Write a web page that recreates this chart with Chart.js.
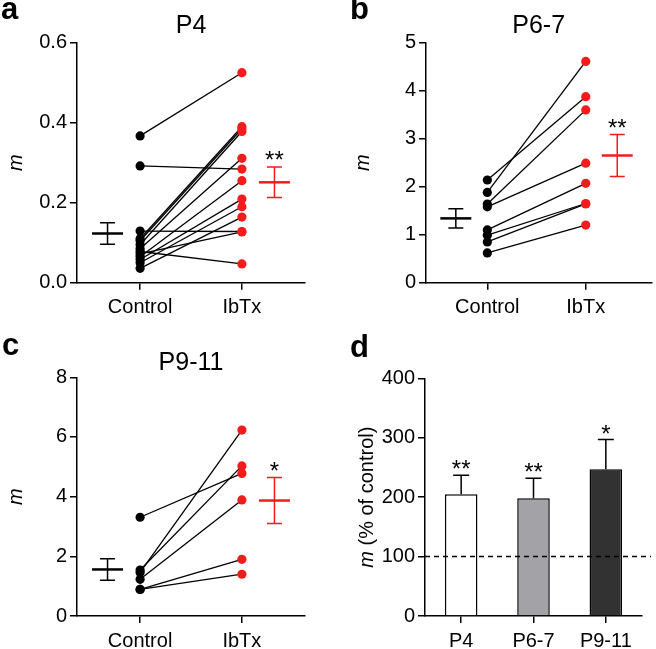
<!DOCTYPE html>
<html>
<head>
<meta charset="utf-8">
<script src="https://cdn.jsdelivr.net/npm/chart.js@4.4.1/dist/chart.umd.min.js"></script>
<style>
    html, body { margin: 0; padding: 0; background: #fff; }
    #fig { position: relative; width: 656px; height: 649px; overflow: hidden; }
    #fig canvas { position: absolute; }
</style>
</head>
<body>
<div id="fig">
    <canvas id="chartA" width="328" height="318" style="left:0;top:0"></canvas>
    <canvas id="chartB" width="328" height="318" style="left:328px;top:0"></canvas>
    <canvas id="chartC" width="328" height="331" style="left:0;top:318px"></canvas>
    <canvas id="chartD" width="328" height="331" style="left:328px;top:318px"></canvas>
</div>
<script>
    // data
    const groups = ['Control', 'IbTx'];

    // P4 (paired, same index = same cell)
    const p4Control = [0.367, 0.292, 0.129, 0.110, 0.105, 0.095, 0.085, 0.065, 0.058, 0.050, 0.036, 0.072, 0.078];
    const p4IbTx    = [0.525, 0.284, 0.128, 0.390, 0.385, 0.378, 0.311, 0.255, 0.209, 0.190, 0.164, 0.127, 0.047];
    const p4Mean = [0.123, 0.251];
    const p4Sem  = [0.027, 0.038];
    const p4Sig  = ['', '**'];

    // P6-7
    const p67Control = [2.14, 1.88, 1.64, 1.58, 1.10, 0.99, 0.85, 0.62];
    const p67IbTx    = [3.875, 4.61, 3.60, 2.49, 2.07, 1.65, 1.64, 1.20];
    const p67Mean = [1.34, 2.65];
    const p67Sem  = [0.20, 0.435];
    const p67Sig  = ['', '**'];

    // P9-11
    const p911Control = [3.31, 1.54, 1.46, 1.23, 0.89, 0.89];
    const p911IbTx    = [4.78, 5.03, 6.23, 3.89, 1.90, 1.40];
    const p911Mean = [1.56, 3.87];
    const p911Sem  = [0.36, 0.77];
    const p911Sig  = ['', '*'];

    // summary (% of control)
    const ages = ['P4', 'P6-7', 'P9-11'];
    const ratioMean = [205, 198, 247];
    const ratioSem  = [32, 34, 50];
    const ratioSig  = ['**', '**', '*'];
    const controlLevel = 100;

    const FONT = '"Liberation Sans", Arial, Helvetica, sans-serif';
    const RED = '#f21c1c';
    Chart.defaults.font.family = FONT;
    Chart.defaults.color = '#000';

    // panel letter, title and y axis title (italic m)
    const decoPlugin = {
        id: 'deco',
        afterDraw(chart, args, o) {
            const ctx = chart.ctx, a = chart.chartArea;
            ctx.save();
            ctx.fillStyle = '#000';
            ctx.textBaseline = 'alphabetic';
            ctx.font = 'bold 31px ' + FONT;
            ctx.textAlign = 'left';
            ctx.fillText(o.letter, o.letterX, o.letterY);
            if (o.title) {
                ctx.font = '25px ' + FONT;
                ctx.textAlign = 'center';
                ctx.fillText(o.title, (a.left + a.right) / 2, o.titleY);
            }
            // rotated y title
            ctx.translate(o.yTitleX, (a.top + a.bottom) / 2);
            ctx.rotate(-Math.PI / 2);
            const parts = o.yTitle;
            let total = 0;
            parts.forEach(p => {
                ctx.font = (p.italic ? 'italic ' : '') + '20px ' + FONT;
                p.w = ctx.measureText(p.text).width;
                total += p.w;
            });
            let xx = -total / 2;
            ctx.textAlign = 'left';
            parts.forEach(p => {
                ctx.font = (p.italic ? 'italic ' : '') + '20px ' + FONT;
                ctx.fillText(p.text, xx, 0);
                xx += p.w;
            });
            ctx.restore();
        }
    };

    // mean +/- SEM markers beside the paired points
    const meanSemPlugin = {
        id: 'meanSem',
        afterDatasetsDraw(chart, args, o) {
            if (!o.mean) return;
            const ctx = chart.ctx, x = chart.scales.x, y = chart.scales.y;
            ctx.save();
            o.mean.forEach((m, i) => {
                const cx = x.getPixelForValue(o.pos[i]);
                const my = y.getPixelForValue(m);
                const top = y.getPixelForValue(m + o.sem[i]);
                const bot = y.getPixelForValue(m - o.sem[i]);
                ctx.strokeStyle = o.colors[i];
                ctx.lineWidth = 1.5;
                ctx.beginPath();
                ctx.moveTo(cx, top); ctx.lineTo(cx, bot);
                ctx.moveTo(cx - 7.5, top); ctx.lineTo(cx + 7.5, top);
                ctx.moveTo(cx - 7.5, bot); ctx.lineTo(cx + 7.5, bot);
                ctx.stroke();
                ctx.lineWidth = 2.5;
                ctx.beginPath();
                ctx.moveTo(cx - 15.5, my); ctx.lineTo(cx + 15.5, my);
                ctx.stroke();
                if (o.sig[i]) {
                    ctx.fillStyle = '#000';
                    ctx.font = '24px ' + FONT;
                    ctx.textAlign = 'center';
                    ctx.textBaseline = 'alphabetic';
                    ctx.fillText(o.sig[i], cx, top + 1);
                }
            });
            ctx.restore();
        }
    };

    // upward error bars, stars and the 100 % line on the bar panel
    const barDecoPlugin = {
        id: 'barDeco',
        afterDatasetsDraw(chart, args, o) {
            if (!o.sem) return;
            const ctx = chart.ctx, y = chart.scales.y, a = chart.chartArea;
            const meta = chart.getDatasetMeta(0);
            ctx.save();
            ctx.strokeStyle = '#000';
            ctx.lineWidth = 1.5;
            meta.data.forEach((bar, i) => {
                const v = chart.data.datasets[0].data[i];
                const yb = y.getPixelForValue(v);
                const yt = y.getPixelForValue(v + o.sem[i]);
                ctx.beginPath();
                ctx.moveTo(bar.x, yb); ctx.lineTo(bar.x, yt);
                ctx.moveTo(bar.x - 8, yt); ctx.lineTo(bar.x + 8, yt);
                ctx.stroke();
                ctx.fillStyle = '#000';
                ctx.font = '24px ' + FONT;
                ctx.textAlign = 'center';
                ctx.fillText(o.sig[i], bar.x, yt + 2);
            });
            const yl = y.getPixelForValue(o.level);
            ctx.setLineDash([5, 4]);
            ctx.beginPath();
            ctx.moveTo(a.left, yl); ctx.lineTo(a.right + 9, yl);
            ctx.stroke();
            ctx.restore();
        }
    };

    const axisStyle = {
        grid: { drawOnChartArea: false, tickLength: 7, color: '#000', lineWidth: 1.5 },
        border: { color: '#000', width: 1.5 }
    };

    function makePaired(id, control, ibtx, mean, sem, sig, yMax, yStep, dec, xMin, xMax, box, deco) {
        const datasets = [
            { data: ibtx.map(v => ({ x: 1, y: v })), pointRadius: 4.6, pointBackgroundColor: RED, pointBorderWidth: 0 },
            { data: control.map(v => ({ x: 0, y: v })), pointRadius: 4.6, pointBackgroundColor: '#000', pointBorderWidth: 0 }
        ];
        control.forEach((c, i) => {
            datasets.push({
                data: [{ x: 0, y: c }, { x: 1, y: ibtx[i] }],
                showLine: true, borderColor: '#000', borderWidth: 1.3, pointRadius: 0
            });
        });
        return new Chart(document.getElementById(id), {
            type: 'scatter',
            data: { datasets: datasets },
            options: {
                responsive: false,
                animation: false,
                layout: { padding: { top: box.top, right: box.right, left: 0, bottom: 0 } },
                plugins: {
                    legend: { display: false },
                    tooltip: { enabled: false },
                    deco: deco,
                    meanSem: { mean: mean, sem: sem, sig: sig, pos: [-0.32, 1.32], colors: ['#000', RED] }
                },
                scales: {
                    x: {
                        type: 'linear', min: xMin, max: xMax,
                        afterBuildTicks: s => { s.ticks = [{ value: 0 }, { value: 1 }]; },
                        afterFit: s => { s.height = box.xH; },
                        ticks: { callback: v => groups[v], padding: 6, font: { size: 20 }, color: '#000', maxRotation: 0, autoSkip: false },
                        grid: axisStyle.grid, border: axisStyle.border
                    },
                    y: {
                        min: 0, max: yMax,
                        afterFit: s => { s.width = box.yW; },
                        ticks: { stepSize: yStep, callback: v => v.toFixed(dec), padding: 3, font: { size: 20 }, color: '#000' },
                        grid: axisStyle.grid, border: axisStyle.border
                    }
                }
            },
            plugins: [decoPlugin, meanSemPlugin]
        });
    }

    const mTitle = [{ text: 'm', italic: true }];

    makePaired('chartA', p4Control, p4IbTx, p4Mean, p4Sem, p4Sig, 0.6, 0.2, 1, -0.62, 1.62,
        { top: 42.7, right: 23, yW: 77, xH: 35.3 },
        { letter: 'a', letterX: 1, letterY: 18.5, title: 'P4', titleY: 33.3, yTitleX: 22, yTitle: mTitle });

    makePaired('chartB', p67Control, p67IbTx, p67Mean, p67Sem, p67Sig, 5, 1, 0, -0.623, 1.667,
        { top: 42.7, right: 1, yW: 98, xH: 35.3 },
        { letter: 'b', letterX: 22, letterY: 18.5, title: 'P6-7', titleY: 33.3, yTitleX: 40.5, yTitle: mTitle });

    makePaired('chartC', p911Control, p911IbTx, p911Mean, p911Sem, p911Sig, 8, 2, 0, -0.62, 1.62,
        { top: 59.3, right: 23, yW: 77, xH: 33 },
        { letter: 'c', letterX: 2, letterY: 37, title: 'P9-11', titleY: 52, yTitleX: 22, yTitle: mTitle });

    new Chart(document.getElementById('chartD'), {
        type: 'bar',
        data: {
            labels: ages,
            datasets: [{
                data: ratioMean,
                backgroundColor: ['#ffffff', '#a3a3a7', '#323232'],
                borderColor: '#000',
                borderWidth: 1.5,
                categoryPercentage: 1,
                barPercentage: 0.45
            }]
        },
        options: {
            responsive: false,
            animation: false,
            layout: { padding: { top: 60.3, right: 14, left: 0, bottom: 0 } },
            plugins: {
                legend: { display: false },
                tooltip: { enabled: false },
                deco: { letter: 'd', letterX: 22, letterY: 38.7, title: '', yTitleX: 45.3,
                        yTitle: [{ text: 'm', italic: true }, { text: ' (% of control)' }] },
                barDeco: { sem: ratioSem, sig: ratioSig, level: controlLevel }
            },
            scales: {
                x: {
                    afterFit: s => { s.height = 33; },
                    ticks: { padding: 6, font: { size: 20 }, color: '#000', maxRotation: 0 },
                    grid: { offset: false, drawOnChartArea: false, tickLength: 7, color: '#000', lineWidth: 1.5 },
                    border: axisStyle.border
                },
                y: {
                    min: 0, max: 400,
                    afterFit: s => { s.width = 97; },
                    ticks: { stepSize: 100, padding: 3, font: { size: 20 }, color: '#000' },
                    grid: axisStyle.grid, border: axisStyle.border
                }
            }
        },
        plugins: [decoPlugin, barDecoPlugin]
    });
</script>
</body>
</html>
